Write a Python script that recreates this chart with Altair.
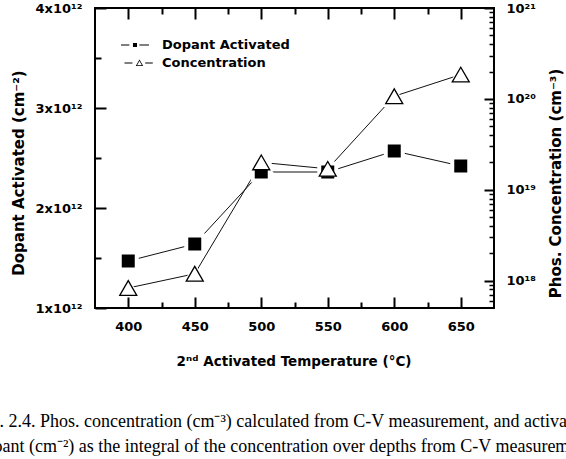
import altair as alt
import pandas as pd

# Measured values
temperature = [400, 450, 500, 550, 600, 650]
dopant_activated = [1.47e12, 1.64e12, 2.36e12, 2.36e12, 2.57e12, 2.42e12]   # cm^-2
phos_concentration = [8.3e17, 1.19e18, 2.0e19, 1.7e19, 1.07e20, 1.85e20]  # cm^-3

series_names = ["Dopant Activated", "Concentration"]

# Axis ranges and tick positions
x_domain = [375, 675]
left_domain = [1e12, 4e12]
right_domain = [5e17, 1e21]
x_major = [400, 450, 500, 550, 600, 650]
x_minor = [425, 475, 525, 575, 625]
left_major = [1e12, 2e12, 3e12, 4e12]
left_minor = [1.5e12, 2.5e12, 3.5e12]
right_major = [1e18, 1e19, 1e20, 1e21]
right_minor = [6e17, 7e17, 8e17, 9e17,
               2e18, 3e18, 4e18, 5e18, 6e18, 7e18, 8e18, 9e18,
               2e19, 3e19, 4e19, 5e19, 6e19, 7e19, 8e19, 9e19,
               2e20, 3e20, 4e20, 5e20, 6e20, 7e20, 8e20, 9e20]

sup = {"0": "⁰", "1": "¹", "2": "²", "3": "³", "4": "⁴",
       "5": "⁵", "6": "⁶", "7": "⁷", "8": "⁸", "9": "⁹"}

df = pd.DataFrame({"T": temperature, "dopant": dopant_activated,
                   "conc": phos_concentration})
legend_df = pd.DataFrame({"series": series_names})

FONT = "DejaVu Sans"
W, H = 399, 300

# right-axis labels: 10 with a superscript exponent
exp_expr = "round(log(datum.value) / LN10)"
cond = "''"
for e in (21, 20, 19, 18):
    cond = f"({exp_expr} == {e} ? '{''.join(sup[c] for c in str(e))}' : {cond})"
right_label = f"'10' + {cond}"


def x_enc(axis):
    return alt.X("T:Q", scale=alt.Scale(domain=x_domain, nice=False, zero=False), axis=axis)


def y_left(axis):
    return alt.Y("dopant:Q", scale=alt.Scale(domain=left_domain, nice=False, zero=False), axis=axis)


def y_right(axis):
    return alt.Y("conc:Q", scale=alt.Scale(type="log", domain=right_domain, nice=False), axis=axis)


def tick_axis(orient, values, size, width=2):
    # inward ticks: axis pulled inside the frame by its own tick length
    return alt.Axis(orient=orient, values=values, labels=False, domain=False, grid=False,
                    ticks=True, tickSize=size, offset=-size, tickWidth=width,
                    tickColor="black", title=None, zindex=1)


x_label_axis = alt.Axis(
    orient="bottom", values=x_major, ticks=False, domain=False, grid=False,
    labelPadding=12, labelFont=FONT, labelFontSize=13, labelFontWeight="bold",
    labelColor="black", labelFlush=False, format="d",
    title="2ⁿᵈ Activated Temperature (°C)", titleFont=FONT, titleFontSize=13.5,
    titleFontWeight="bold", titleColor="black", titleX=198.5, titleY=53,
    titleAlign="center", titleBaseline="middle")

left_label_axis = alt.Axis(
    orient="left", values=left_major, ticks=False, domain=False, grid=False,
    labelPadding=13, labelFont=FONT, labelFontSize=13, labelFontWeight="bold",
    labelColor="black", labelFlush=False,
    labelExpr="round(datum.value / 1e12) + 'x10¹²'",
    title="Dopant Activated (cm⁻²)", titleFont=FONT, titleFontSize=15,
    titleFontWeight="bold", titleColor="black", titleAngle=270,
    titleX=-77, titleY=164.5, titleAlign="center", titleBaseline="middle")

right_label_axis = alt.Axis(
    orient="right", values=right_major, ticks=False, domain=False, grid=False,
    labelPadding=12, labelFont=FONT, labelFontSize=13, labelFontWeight="bold",
    labelColor="black", labelFlush=False, labelExpr=right_label,
    title="Phos.  Concentration (cm⁻³)", titleFont=FONT, titleFontSize=15,
    titleFontWeight="bold", titleColor="black", titleAngle=270,
    titleX=61, titleY=175, titleAlign="center", titleBaseline="middle")

base = alt.Chart(df)

dopant_line = base.mark_line(color="#111", strokeWidth=1).encode(
    x=x_enc(x_label_axis), y=y_left(left_label_axis))

conc_line = base.mark_line(color="#111", strokeWidth=1).encode(
    x=x_enc(tick_axis("top", x_major, 11)), y=y_right(right_label_axis))

dopant_halo = base.mark_point(shape="square", filled=True, color="white", size=441, opacity=1).encode(
    x=x_enc(tick_axis("bottom", x_major, 11)), y=y_left(tick_axis("left", left_major, 11)))

conc_halo = base.mark_point(shape="triangle-up", filled=True, color="white", size=625, opacity=1).encode(
    x=x_enc(tick_axis("bottom", x_minor, 6)), y=y_right(tick_axis("right", right_major, 10)))

dopant_pts = base.mark_point(shape="square", filled=True, color="black", size=169, opacity=1).encode(
    x=x_enc(tick_axis("top", x_minor, 6)), y=y_left(tick_axis("left", left_minor, 6)))

conc_pts = base.mark_point(shape="triangle-up", filled=True, fill="white", stroke="black",
                           strokeWidth=1.3, size=289, opacity=1).encode(
    x=x_enc(None), y=y_right(tick_axis("right", right_minor, 5, 1.5)))

# legend symbols (line - marker - line), built from filled shapes only:
# thin bars for the line pieces, a solid square, and a hollow triangle ring
sq_path = ("M-2,-0.07H-0.8V0.07H-2Z M0.62,-0.07H2V0.07H0.62Z "
           "M-0.29,-0.29H0.29V0.29H-0.29Z")
tri_path = ("M-1.5,-0.07H-0.36V0.07H-1.5Z M1.46,-0.07H2.54V0.07H1.46Z "
            "M0.64,-0.5L1.17,0.43H0.11Z M0.64,-0.27L0.3,0.31H0.98Z")

legend_layer = alt.Chart(legend_df).mark_point(
    filled=True, color="black", opacity=0
).encode(
    shape=alt.Shape("series:N", scale=alt.Scale(domain=series_names, range=[sq_path, tri_path]),
                    legend=alt.Legend(title=None)),
)

caption = [
    "Fig. 2.4. Phos. concentration (cm⁻³) calculated from C-V measurement, and activated",
    "dopant (cm⁻²) as the integral of the concentration over depths from C-V measurement.",
]

chart = alt.layer(
    dopant_line, conc_line, dopant_halo, conc_halo, dopant_pts, conc_pts, legend_layer
).resolve_scale(
    y="independent"
).resolve_axis(
    x="independent", y="independent"
).properties(
    width=W, height=H,
    autosize=alt.AutoSizeParams(type="none"),
    padding={"left": 95, "top": 8, "right": 72, "bottom": 151},
    title=alt.TitleParams(text=caption, orient="bottom", anchor="start", frame="group",
                          font="Liberation Serif", fontSize=18, fontWeight="normal",
                          color="black", dx=-119.5, offset=45, lineHeight=25),
).configure_view(
    stroke="black", strokeWidth=2
).configure_legend(
    orient="none", legendX=33, legendY=30, direction="vertical",
    symbolSize=196, symbolFillColor="black", symbolStrokeWidth=0, symbolOpacity=1,
    labelFont=FONT, labelFontSize=13, labelFontWeight="bold", labelColor="black",
    labelOffset=20, rowPadding=4, padding=0,
)

chart.save("out.html", embed_options={"renderer": "svg", "actions": False})
